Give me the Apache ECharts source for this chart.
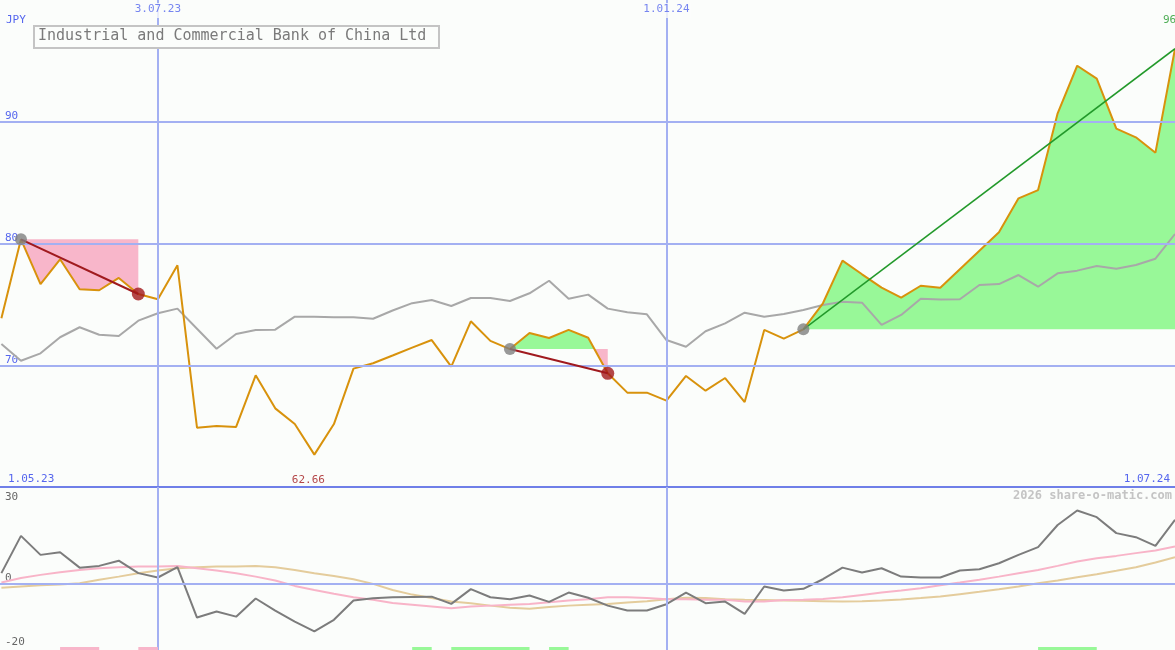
<!DOCTYPE html>
<html><head><meta charset="utf-8">
<script src="https://cdn.jsdelivr.net/npm/echarts@6/dist/echarts.min.js"></script>
<style>html,body{margin:0;padding:0;background:#fbfdfb;}#c{width:1175px;height:650px;}</style>
</head><body><div id="c"></div>
<script>
const title = 'Industrial and Commercial Bank of China Ltd';
const currency = 'JPY';
const watermark = '2026 share-o-matic.com';
const rangeLabels = ['1.05.23', '1.07.24'];
const dates = ['2023-05-08','2023-05-15','2023-05-22','2023-05-29','2023-06-05','2023-06-12','2023-06-19','2023-06-26',
 '2023-07-03','2023-07-10','2023-07-17','2023-07-24','2023-07-31','2023-08-07','2023-08-14','2023-08-21','2023-08-28',
 '2023-09-04','2023-09-11','2023-09-18','2023-09-25','2023-10-02','2023-10-09','2023-10-16','2023-10-23','2023-10-30',
 '2023-11-06','2023-11-13','2023-11-20','2023-11-27','2023-12-04','2023-12-11','2023-12-18','2023-12-25',
 '2024-01-01','2024-01-08','2024-01-15','2024-01-22','2024-01-29','2024-02-05','2024-02-12','2024-02-19','2024-02-26',
 '2024-03-04','2024-03-11','2024-03-18','2024-03-25','2024-04-01','2024-04-08','2024-04-15','2024-04-22','2024-04-29',
 '2024-05-06','2024-05-13','2024-05-20','2024-05-27','2024-06-03','2024-06-10','2024-06-17','2024-06-24','2024-07-01'];
const price = [73.86,80.34,76.67,78.70,76.24,76.16,77.17,75.85,75.42,78.21,
 64.87,65.01,64.93,69.17,66.46,65.17,62.66,65.17,69.72,70.16,
 70.80,71.45,72.07,69.88,73.61,72.00,71.33,72.65,72.24,72.90,
 72.26,69.34,67.75,67.75,67.09,69.12,67.91,68.95,66.98,72.90,
 72.18,72.95,75.09,78.59,77.47,76.37,75.55,76.53,76.37,77.89,
 79.41,80.92,83.71,84.39,90.69,94.60,93.54,89.43,88.72,87.46,96.00];
const indexLine = [71.75,70.37,70.98,72.30,73.12,72.51,72.40,73.66,74.27,74.65,
 73.00,71.36,72.57,72.90,72.92,73.99,73.99,73.94,73.94,73.82,
 74.50,75.10,75.36,74.87,75.52,75.52,75.28,75.91,76.94,75.47,
 75.80,74.65,74.35,74.18,72.07,71.52,72.79,73.44,74.32,73.99,
 74.21,74.54,74.95,75.22,75.14,73.31,74.13,75.47,75.40,75.42,
 76.59,76.67,77.41,76.45,77.55,77.77,78.15,77.93,78.23,78.75,80.78];
const momentum = [3.7,16.55,10.0,10.9,5.6,6.2,8.0,3.7,2.2,5.75,
 -11.6,-9.55,-11.3,-5.05,-9.2,-13.0,-16.4,-12.4,-5.75,-4.95,
 -4.65,-4.5,-4.4,-6.9,-1.8,-4.6,-5.3,-4.0,-6.2,-3.0,
 -4.8,-7.5,-9.2,-9.2,-7.0,-3.0,-6.65,-6.1,-10.35,-0.9,
 -2.3,-1.7,1.6,5.6,3.9,5.4,2.5,2.2,2.2,4.6,
 5.05,7.1,10.0,12.65,20.3,25.3,23.0,17.5,16.1,13.1,22.1];
const momFast = [0.45,2.0,3.1,4.0,4.8,5.4,5.75,6.0,6.0,6.2,
 5.4,4.6,3.7,2.5,1.15,-0.7,-2.1,-3.4,-4.6,-5.5,
 -6.6,-7.2,-7.8,-8.4,-7.8,-7.5,-7.2,-6.9,-6.3,-5.75,
 -5.3,-4.6,-4.6,-4.9,-5.3,-5.3,-5.5,-5.5,-6.1,-6.1,
 -5.6,-5.5,-5.2,-4.6,-3.8,-3.0,-2.3,-1.5,-0.45,0.45,
 1.4,2.5,3.7,4.8,6.2,7.7,8.85,9.65,10.6,11.5,12.9];
const momSlow = [-1.3,-0.9,-0.5,-0.2,0.25,1.4,2.5,3.7,4.6,5.4,
 5.75,6.0,6.0,6.2,5.75,4.8,3.7,2.75,1.6,0.0,
 -2.1,-3.7,-4.9,-6.1,-6.7,-7.5,-8.2,-8.6,-8.0,-7.5,
 -7.2,-6.9,-6.4,-6.0,-5.3,-4.8,-4.9,-5.3,-5.5,-5.6,
 -5.75,-5.85,-5.95,-6.1,-5.95,-5.75,-5.4,-4.9,-4.35,-3.55,
 -2.75,-1.85,-0.9,0.25,1.15,2.3,3.35,4.5,5.75,7.35,9.2];
const tradeStart = ['2023-05-15','2023-11-06','2024-02-19'];
const tradeEnd = ['2023-06-26','2023-12-11','2024-07-01'];
const tradeClosed = [true, true, false];
const pinkSignals = [['2023-05-29','2023-06-12'],['2023-06-26','2023-07-03']];
const greenSignals = [['2023-10-02','2023-10-09'],['2023-10-16','2023-11-13'],['2023-11-20','2023-11-27'],['2024-05-13','2024-06-03']];
const dateMarks = ['2023-07-03','2024-01-01'];
const dateMarkLabels = ['3.07.23','1.01.24'];
const priceTicks = [70, 80, 90];
const momTicks = [30, 0, -20];

const DAY = 86400000;
function ts(s){const a=s.split('-').map(Number);return Date.UTC(a[0],a[1]-1,a[2]);}
const T = dates.map(ts);
const xMax = T[T.length-1];
const xMin = xMax - 420.5*DAY;
const FONT = 'DejaVu Sans Mono';
const BLUE_TXT = '#5566ee', GRID = '#a3b0f2', BG = '#fbfdfb';
const GREEN_FILL = '#98f898', PINK_FILL = '#f8b6ca';

function buildRuns(s, e, L){
  const runs = []; let pts = [[T[s], L], [T[s], price[s]]]; let col = null;
  for (let i = s; i < e; i++){
    const a = price[i]-L, b = price[i+1]-L;
    if ((a>0&&b<0)||(a<0&&b>0)){
      const tc = T[i] + (T[i+1]-T[i])*a/(a-b);
      const ca = a>0?'g':'p';
      if (col===null) col = ca;
      pts.push([tc, L]); runs.push({col, pts});
      col = b>0?'g':'p'; pts = [[tc, L], [T[i+1], price[i+1]]];
    } else {
      const c = (a+b)>=0?'g':'p';
      if (col===null) col = c;
      pts.push([T[i+1], price[i+1]]);
    }
  }
  pts.push([T[e], L]); runs.push({col, pts});
  return runs;
}

const xAxisBase = {type:'time', min:xMin, max:xMax, axisLine:{show:false}, axisTick:{show:false}, axisLabel:{show:false}, splitLine:{show:false}};
const series = [];
series.push({type:'line', xAxisIndex:0, yAxisIndex:0, data:[], z:1, silent:true, clip:false,
  markLine:{silent:true, symbol:'none', animation:false, label:{show:false},
    lineStyle:{color:GRID, width:2, type:'solid'},
    data:[...priceTicks.map(v=>({yAxis:v})), ...dateMarks.map(d=>({xAxis:ts(d)})),
      {yAxis:60, lineStyle:{color:'#6f7fe8', width:2, type:'solid'}}]}});
series.push({type:'line', xAxisIndex:1, yAxisIndex:1, data:[], z:1, silent:true, clip:false,
  markLine:{silent:true, symbol:'none', animation:false, label:{show:false},
    lineStyle:{color:GRID, width:2, type:'solid'},
    data:[{yAxis:0}, ...dateMarks.map(d=>({xAxis:ts(d)}))]}});
series.push({type:'custom', xAxisIndex:0, yAxisIndex:0, z:2, silent:true,
  data: tradeStart.map((d,i)=>[ts(d), price[dates.indexOf(d)], i]),
  encode:{x:0, y:1},
  renderItem(params, api){
    const ti = params.dataIndex;
    const s = dates.indexOf(tradeStart[ti]), e = dates.indexOf(tradeEnd[ti]);
    const runs = buildRuns(s, e, price[s]);
    return {type:'group', children: runs.map(r=>({type:'polygon',
      shape:{points:r.pts.map(p=>api.coord(p))},
      style:{fill: r.col==='g'?GREEN_FILL:PINK_FILL, stroke:null}}))};
  }});
series.push({type:'line', xAxisIndex:0, yAxisIndex:0, z:3, showSymbol:false, silent:true,
  data: T.map((t,i)=>[t, indexLine[i]]), lineStyle:{color:'#a8a8a8', width:2}});
series.push({type:'line', xAxisIndex:0, yAxisIndex:0, z:4, showSymbol:false, silent:true,
  data: T.map((t,i)=>[t, price[i]]), lineStyle:{color:'#d8920c', width:2}});
tradeStart.forEach((d,i)=>{
  const s = dates.indexOf(d), e = dates.indexOf(tradeEnd[i]);
  const win = price[e] > price[s];
  series.push({type:'line', xAxisIndex:0, yAxisIndex:0, z:5, showSymbol:false, silent:true,
    data:[[T[s], price[s]], [T[e], price[e]]],
    lineStyle:{color: win?'#22992a':'#a01a1e', width: win?1.5:2}});
});
series.push({type:'scatter', xAxisIndex:0, yAxisIndex:0, z:6, silent:true, symbolSize:12,
  itemStyle:{color:'#808080'},
  data: tradeStart.map(d=>[ts(d), price[dates.indexOf(d)]])});
series.push({type:'scatter', xAxisIndex:0, yAxisIndex:0, z:6, silent:true, symbolSize:13,
  itemStyle:{color:'#a3191c'},
  data: tradeEnd.filter((d,i)=>tradeClosed[i]).map(d=>[ts(d), price[dates.indexOf(d)]])});
series.push({type:'scatter', xAxisIndex:0, yAxisIndex:0, z:7, silent:true, symbolSize:0,
  data: dateMarks.map((d,i)=>({value:[ts(d), 100], name:dateMarkLabels[i]})),
  label:{show:true, position:'bottom', distance:3, formatter:p=>p.name, color:BLUE_TXT,
    fontFamily:FONT, fontSize:11, backgroundColor:BG, padding:[1,1,3,1]}});
const minIdx = price.indexOf(Math.min(...price));
series.push({type:'scatter', xAxisIndex:0, yAxisIndex:0, z:7, silent:true, symbolSize:0,
  data:[[T[minIdx], 60]],
  label:{show:true, position:'top', distance:1, offset:[-6,0], formatter:()=>price[minIdx].toFixed(2),
    color:'#a3191c', fontFamily:FONT, fontSize:11}});
const last = price.length-1;
series.push({type:'scatter', xAxisIndex:0, yAxisIndex:0, z:7, silent:true, symbolSize:0,
  data:[[T[last], 100]],
  label:{show:true, position:[-12, 20], align:'left', verticalAlign:'middle',
    formatter:()=>price[last].toFixed(2), color:'#22992a', fontFamily:FONT, fontSize:11}});
series.push({type:'line', xAxisIndex:1, yAxisIndex:1, z:3, showSymbol:false, silent:true,
  data:T.map((t,i)=>[t, momSlow[i]]), lineStyle:{color:'#e4cc9c', width:2}});
series.push({type:'line', xAxisIndex:1, yAxisIndex:1, z:3, showSymbol:false, silent:true,
  data:T.map((t,i)=>[t, momFast[i]]), lineStyle:{color:'#f8b4c8', width:2}});
series.push({type:'line', xAxisIndex:1, yAxisIndex:1, z:4, showSymbol:false, silent:true,
  data:T.map((t,i)=>[t, momentum[i]]), lineStyle:{color:'#7c7c7c', width:2}});
const signals = [...pinkSignals.map(s=>[ts(s[0]), ts(s[1]), 0]), ...greenSignals.map(s=>[ts(s[0]), ts(s[1]), 1])];
series.push({type:'custom', xAxisIndex:1, yAxisIndex:1, z:5, silent:true,
  data: signals, encode:{x:[0,1]},
  renderItem(params, api){
    const a = api.coord([api.value(0), -22.8]);
    const b = api.coord([api.value(1), -22.8]);
    return {type:'rect', shape:{x:a[0], y:a[1]-3, width:b[0]-a[0], height:3},
      style:{fill: api.value(2)===1?GREEN_FILL:PINK_FILL}};
  }});

const option = {
  animation:false,
  backgroundColor:BG,
  grid:[{left:0, right:0, top:0, height:487}, {left:0, right:0, top:487, height:163}],
  xAxis:[Object.assign({gridIndex:0}, xAxisBase), Object.assign({gridIndex:1}, xAxisBase)],
  yAxis:[
    {gridIndex:0, type:'value', min:60, max:100, axisLine:{show:false}, axisTick:{show:false}, splitLine:{show:false},
      axisLabel:{inside:true, margin:5, customValues:priceTicks, verticalAlign:'bottom', color:BLUE_TXT, fontFamily:FONT, fontSize:11}},
    {gridIndex:1, type:'value', min:-22.8, max:33.4, axisLine:{show:false}, axisTick:{show:false}, splitLine:{show:false},
      axisLabel:{inside:true, margin:5, customValues:momTicks, verticalAlign:'middle', color:'#666666', fontFamily:FONT, fontSize:11,
        formatter:v=> v===0 ? '{u|0}' : String(v), rich:{u:{padding:[0,0,12,0], color:'#666666', fontFamily:FONT, fontSize:11}}}}
  ],
  graphic:[
    {type:'rect', left:33, top:25, z:100, shape:{width:405, height:22}, style:{fill:BG, stroke:'#c4c4c4', lineWidth:2}},
    {type:'text', left:38, top:29, z:101, style:{text:title, fill:'#7a7a7a', font:'15px "'+FONT+'"'}},
    {type:'text', left:6, top:15, z:101, style:{text:currency, fill:BLUE_TXT, font:'11px "'+FONT+'"'}},
    {type:'text', left:8, top:474, z:101, style:{text:rangeLabels[0], fill:BLUE_TXT, font:'11px "'+FONT+'"'}},
    {type:'text', right:5, top:474, z:101, style:{text:rangeLabels[1], fill:BLUE_TXT, font:'11px "'+FONT+'"'}},
    {type:'text', right:3, top:490, z:101, style:{text:watermark, fill:'#c4c4c4', font:'bold 12px "'+FONT+'"'}}
  ],
  series
};
const chart = echarts.init(document.getElementById('c'), null, {renderer:'canvas'});
chart.setOption(option);
</script></body></html>
